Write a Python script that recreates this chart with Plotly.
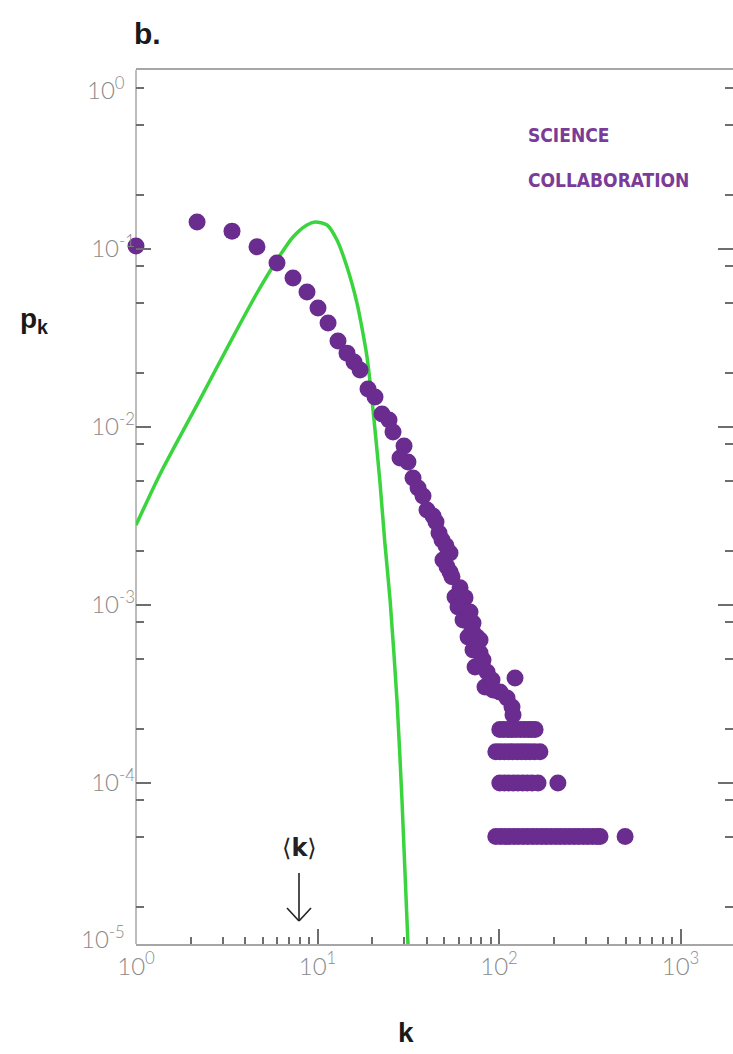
import plotly.graph_objects as go

# ---------------- data ----------------
# Science collaboration network: empirical degree distribution p_k
k_body = [1.00, 2.17, 3.38, 4.64, 5.98, 7.33, 8.75, 10.06, 11.43, 12.97,
          14.54, 15.89, 17.15, 18.98, 20.74, 22.67, 24.77, 26.06, 29.97, 28.48,
          31.5, 33.59, 35.8, 38.13, 40.12, 43.28, 44.97, 46.71, 48.5, 49.1,
          51.05, 53.70, 51.71, 53.7, 55.08, 57.22, 61.0, 61.0, 64.98, 59.44,
          63.35, 67.5, 69.2, 71.0, 71.9, 67.5, 75.6, 78.6, 71.9, 78.6,
          73.8, 80.6, 81.6, 85.9, 83.7, 91.5, 92.7, 101.3, 122.5, 110.7,
          117.9, 119.4]
pk_body = [0.104, 0.142, 0.126, 0.103, 0.0834, 0.0687, 0.0573, 0.0466, 0.0384, 0.0304,
           0.0260, 0.0232, 0.0209, 0.01635, 0.01474, 0.01183, 0.01095, 0.00937, 0.00782, 0.00670,
           0.00636, 0.00517, 0.00454, 0.00410, 0.00342, 0.00316, 0.00293, 0.00254, 0.00232, 0.00179,
           0.00215, 0.00196, 0.00164, 0.00153, 0.00144, 0.00111, 0.00125, 0.00114, 0.00110, 0.000975,
           0.000823, 0.000914, 0.000914, 0.000724, 0.000793, 0.000661, 0.000661, 0.000636, 0.000559, 0.000537,
           0.000448, 0.000478, 0.000491, 0.000420, 0.000346, 0.000379, 0.000333, 0.000324, 0.000389, 0.000300,
           0.000267, 0.000241]

# tail: nodes whose degree occurs 4, 3, 2 and 1 times
k_tail_4 = [101, 106, 112, 118, 124, 131, 138, 145, 151, 158]
k_tail_3 = [96, 101, 107, 113, 119, 126, 133, 140, 148, 157, 168]
k_tail_2 = [101, 107, 113, 120, 127, 135, 143, 152, 164, 211]
k_tail_1 = [96, 102, 108, 114, 121, 128, 136, 144, 153, 162, 172, 182, 193, 205,
            217, 230, 244, 259, 274, 291, 308, 327, 346, 360, 495]
p_tail_levels = [2.0e-4, 1.5e-4, 1.0e-4, 5.0e-5]

# Poisson reference curve
k_poisson = [1.00, 1.356, 2.252, 3.42, 4.64, 5.98, 7.33, 8.75, 9.69, 11.28,
             12.80, 14.54, 16.5, 17.58, 18.74, 19.96, 21.0, 22.1, 23.5, 25.1,
             27.4, 29.2, 31.5, 31.9]
pk_poisson = [2.81e-3, 5.43e-3, 0.0143, 0.0320, 0.0566, 0.0868, 0.1168, 0.1364, 0.1418, 0.1364,
              0.1124, 0.0792, 0.0497, 0.0360, 0.0247, 0.0142, 8.45e-3, 4.85e-3, 2.23e-3, 1.07e-3,
              2.93e-4, 8.0e-5, 1.25e-5, 1.0e-5]

x_tick_vals = [1, 10, 100, 1000]
x_tick_text = ["10<sup>0</sup>", "10<sup>1</sup>", "10<sup>2</sup>", "10<sup>3</sup>"]
x_minor_vals = [m * d for d in (1, 10, 100) for m in range(2, 10)]
y_tick_vals = [1, 1e-1, 1e-2, 1e-3, 1e-4]
y_tick_text = ["", "10<sup>-1</sup>", "10<sup>-2</sup>", "10<sup>-3</sup>", "10<sup>-4</sup>"]
y_minor_vals = [m * d for d in (0.1, 0.01, 0.001, 1e-4, 1e-5) for m in (8, 5, 2)]

# ---------------- figure ----------------
W, H = 733, 1054
L, R, T, B = 136, 0, 70, 110


def px(x):
    return (x - L) / (W - L - R)


def py(y):
    return (H - B - y) / (H - T - B)


k_tail = k_tail_4 + k_tail_3 + k_tail_2 + k_tail_1
p_tail = ([p_tail_levels[0]] * len(k_tail_4) + [p_tail_levels[1]] * len(k_tail_3)
          + [p_tail_levels[2]] * len(k_tail_2) + [p_tail_levels[3]] * len(k_tail_1))

PURPLE = "#6a2c8e"
GREEN = "#3ad43e"
AXIS = "#a6a6a6"
TICK = "#6e6e6e"
LABEL = "#8a8a8a"

fig = go.Figure()
fig.add_trace(go.Scatter(x=k_poisson, y=pk_poisson, mode="lines",
                         line=dict(color=GREEN, width=3.5, shape="spline", smoothing=0.7),
                         hoverinfo="skip", showlegend=False))
fig.add_trace(go.Scatter(x=k_body + k_tail, y=pk_body + p_tail, mode="markers",
                         marker=dict(color=PURPLE, size=17, line=dict(width=0)),
                         cliponaxis=False, showlegend=False))

tickfont = dict(family="Lato, Roboto, sans-serif", size=24, color=LABEL, weight=300)

fig.update_xaxes(type="log", range=[0, 3.289], showline=True, linecolor=AXIS, linewidth=1.5,
                 mirror=True, ticks="inside", ticklen=15, tickwidth=1.5, tickcolor=TICK,
                 tickmode="array", tickvals=x_tick_vals, ticktext=x_tick_text,
                 tickfont=tickfont, showgrid=False, zeroline=False,
                 minor=dict(tickmode="array", tickvals=x_minor_vals, ticks="inside",
                            ticklen=7, tickwidth=1.5, tickcolor=TICK, showgrid=False))
# y axis: ticks on both sides, the frame line only on the left (drawn as a shape below)
fig.update_yaxes(type="log", range=[-4.9045, 0.0056], showline=False,
                 mirror="ticks", ticks="inside", ticklen=15, tickwidth=1.5, tickcolor=TICK,
                 tickmode="array", tickvals=y_tick_vals, ticktext=y_tick_text,
                 tickfont=tickfont, showgrid=False, zeroline=False,
                 minor=dict(tickmode="array", tickvals=y_minor_vals, ticks="inside",
                            ticklen=8, tickwidth=1.5, tickcolor=TICK, showgrid=False))

ann = []
# edge labels of the y axis
ann.append(dict(x=px(127), y=py(88), xref="paper", yref="paper", text="10<sup>0</sup>",
                showarrow=False, xanchor="right", yanchor="middle", font=tickfont))
ann.append(dict(x=px(127), y=py(937), xref="paper", yref="paper", text="10<sup>-5</sup>",
                showarrow=False, xanchor="right", yanchor="middle", font=tickfont))
# panel letter
ann.append(dict(x=px(132), y=py(34), xref="paper", yref="paper", text="<b>b.</b>",
                showarrow=False, xanchor="left", yanchor="middle",
                font=dict(family="Liberation Sans, Arial, sans-serif", size=30, color="#1a1a1a")))
# axis titles
ann.append(dict(x=px(34), y=py(320), xref="paper", yref="paper", text="<b>p<sub>k</sub></b>",
                showarrow=False, xanchor="center", yanchor="middle",
                font=dict(family="Liberation Sans, Arial, sans-serif", size=28, color="#1a1a1a")))
ann.append(dict(x=px(406), y=py(1032), xref="paper", yref="paper", text="<b>k</b>",
                showarrow=False, xanchor="center", yanchor="middle",
                font=dict(family="Liberation Sans, Arial, sans-serif", size=28, color="#1a1a1a")))
# network name
name_font = dict(family="Liberation Sans Narrow, DejaVu Sans Condensed, Roboto Condensed, "
                        "Noto Sans Condensed, Arial Narrow, sans-serif",
                 size=19, color="#7a3c98", weight="bold")
ann.append(dict(x=px(526), y=py(135), xref="paper", yref="paper", text="SCIENCE",
                showarrow=False, xanchor="left", yanchor="middle", font=name_font))
ann.append(dict(x=px(526), y=py(180), xref="paper", yref="paper", text="COLLABORATION",
                showarrow=False, xanchor="left", yanchor="middle", font=name_font))
# <k> marker
ann.append(dict(x=px(299), y=py(848), xref="paper", yref="paper", text="\u27e8<b>k</b>\u27e9",
                showarrow=False, xanchor="center", yanchor="middle",
                font=dict(family="DejaVu Sans, Liberation Sans, sans-serif", size=24, color="#222")))

shapes = [
    # left frame line (under the data, so the first point covers it)
    dict(type="line", xref="paper", yref="paper", x0=0, y0=0, x1=0, y1=1,
         line=dict(color=AXIS, width=1.5), layer="below"),
    # <k> arrow
    dict(type="line", xref="paper", yref="paper", x0=px(299), y0=py(873), x1=px(299), y1=py(921),
         line=dict(color="#222", width=1.6)),
    dict(type="line", xref="paper", yref="paper", x0=px(287), y0=py(908), x1=px(299), y1=py(921),
         line=dict(color="#222", width=1.6)),
    dict(type="line", xref="paper", yref="paper", x0=px(311), y0=py(908), x1=px(299), y1=py(921),
         line=dict(color="#222", width=1.6)),
]

fig.update_layout(width=W, height=H, margin=dict(l=L, r=R, t=T, b=B, pad=0),
                  paper_bgcolor="white", plot_bgcolor="white",
                  annotations=ann, shapes=shapes, showlegend=False)

fig.write_html("out.html")
